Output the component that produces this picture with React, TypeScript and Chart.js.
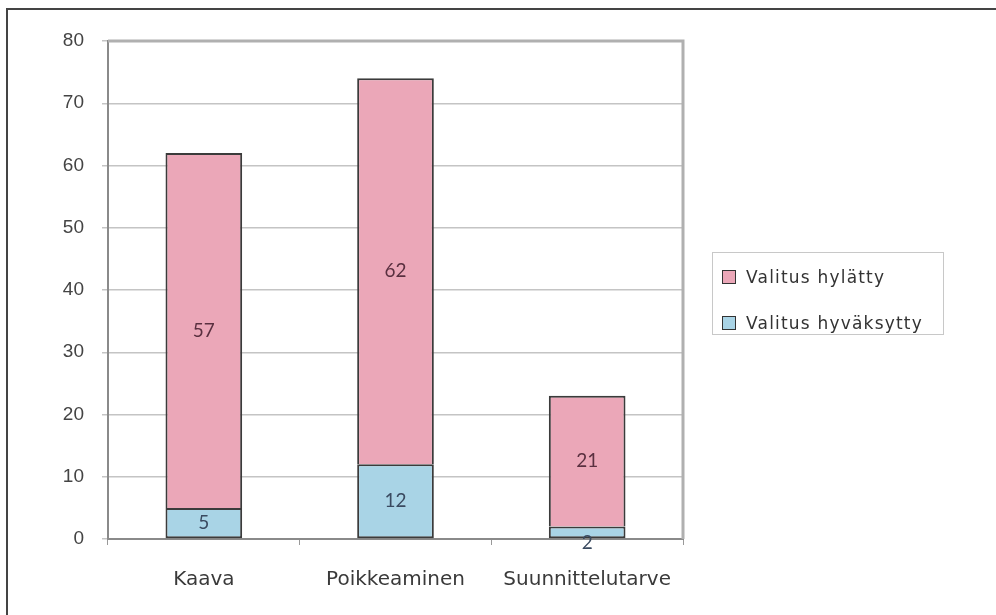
import React, { useEffect, useRef } from "react";
import { Chart, registerables } from "chart.js";

Chart.register(...registerables);

const categories = ["Kaava", "Poikkeaminen", "Suunnittelutarve"];
const approved = [5, 12, 2];
const rejected = [57, 62, 21];
const seriesNames = ["Valitus hylätty", "Valitus hyväksytty"];
const yTicks = [0, 10, 20, 30, 40, 50, 60, 70, 80];

const PINK = "#EBA7B8";
const BLUE = "#A9D4E6";
const EDGE = "#3b3b3b";

const framePlugin = {
  id: "frame",
  beforeDraw(chart: any) {
    const { ctx, width, height } = chart;
    ctx.save();
    ctx.fillStyle = "#ffffff";
    ctx.fillRect(0, 0, width, height);
    ctx.strokeStyle = "#444444";
    ctx.lineWidth = 2;
    ctx.beginPath();
    ctx.moveTo(7, height);
    ctx.lineTo(7, 9);
    ctx.lineTo(width, 9);
    ctx.stroke();
    ctx.restore();
  },
  afterDatasetsDraw(chart: any) {
    const { ctx, chartArea } = chart;
    ctx.save();
    ctx.strokeStyle = "#b0b0b0";
    ctx.lineWidth = 3;
    ctx.beginPath();
    ctx.moveTo(chartArea.left, chartArea.top);
    ctx.lineTo(chartArea.right, chartArea.top);
    ctx.lineTo(chartArea.right, chartArea.bottom);
    ctx.stroke();
    ctx.font = "19px Lato, 'Noto Sans', sans-serif";
    ctx.textAlign = "center";
    ctx.textBaseline = "middle";
    chart.data.datasets.forEach((ds: any, di: number) => {
      const meta = chart.getDatasetMeta(di);
      meta.data.forEach((bar: any, i: number) => {
        const v = ds.data[i];
        const top = bar.y;
        const base = bar.base;
        let y = (top + base) / 2;
        if (Math.abs(base - top) < 20) y = base + 5;
        ctx.fillStyle = di === 0 ? "#3a4a60" : "#5a3040";
        ctx.fillText(String(v), bar.x, y);
      });
    });
    ctx.restore();
  },
};

export default function App() {
  const ref = useRef<HTMLCanvasElement | null>(null);
  useEffect(() => {
    if (!ref.current) return;
    const chart = new Chart(ref.current, {
      type: "bar",
      data: {
        labels: categories,
        datasets: [
          {
            label: seriesNames[1],
            data: approved,
            backgroundColor: BLUE,
            borderColor: EDGE,
            borderWidth: 2,
            borderSkipped: false,
            barPercentage: 0.8,
            categoryPercentage: 0.5,
          },
          {
            label: seriesNames[0],
            data: rejected,
            backgroundColor: PINK,
            borderColor: EDGE,
            borderWidth: 2,
            borderSkipped: "bottom",
            barPercentage: 0.8,
            categoryPercentage: 0.5,
          },
        ],
      },
      options: {
        animation: false,
        responsive: false,
        layout: { padding: { left: 0, top: 41, right: 313, bottom: 0 } },
        plugins: {
          legend: { display: false },
          tooltip: { enabled: false },
        },
        scales: {
          x: {
            stacked: true,
            grid: {
              display: true,
              drawOnChartArea: false,
              drawTicks: true,
              tickLength: 6,
              color: "#999999",
              lineWidth: 1,
            },
            border: { display: true, color: "#8a8a8a", width: 2 },
            ticks: {
              color: "#3a3a3a",
              padding: 23,
              font: { family: "'DejaVu Sans', sans-serif", size: 20 },
            },
            afterFit: (s: any) => {
              s.height = 76;
            },
          },
          y: {
            stacked: true,
            min: 0,
            max: 80,
            afterBuildTicks: (s: any) => {
              s.ticks = yTicks.map((v) => ({ value: v }));
            },
            grid: {
              color: "#c4c4c4",
              lineWidth: 1.5,
              drawTicks: true,
              tickLength: 6,
            },
            border: { display: true, color: "#8a8a8a", width: 2 },
            ticks: {
              color: "#444444",
              padding: 18,
              font: { family: "'Liberation Sans', Arial, sans-serif", size: 19 },
            },
            afterFit: (s: any) => {
              s.width = 108;
            },
          },
        },
      },
      plugins: [framePlugin],
    });
    return () => chart.destroy();
  }, []);

  const legendItem = (color: string, text: string) => (
    <div style={{ display: "flex", alignItems: "center", height: 22 }}>
      <span
        style={{
          display: "inline-block",
          width: 12,
          height: 12,
          background: color,
          border: "1.5px solid #333",
          marginRight: 10,
        }}
      />
      <span style={{ letterSpacing: "1.2px" }}>{text}</span>
    </div>
  );

  return (
    <div style={{ position: "fixed", left: 0, top: 0, width: 996, height: 615, background: "#fff" }}>
      <canvas ref={ref} width={996} height={615} style={{ display: "block" }} />
      <div
        style={{
          position: "absolute",
          left: 712,
          top: 252,
          width: 232,
          height: 83,
          boxSizing: "border-box",
          border: "1px solid #c8c8c8",
          padding: "13px 0 0 9px",
          fontFamily: "'DejaVu Sans', sans-serif",
          fontSize: 17,
          color: "#333",
          display: "flex",
          flexDirection: "column",
          gap: 24,
          whiteSpace: "nowrap",
        }}
      >
        {legendItem(PINK, seriesNames[0])}
        {legendItem(BLUE, seriesNames[1])}
      </div>
    </div>
  );
}
